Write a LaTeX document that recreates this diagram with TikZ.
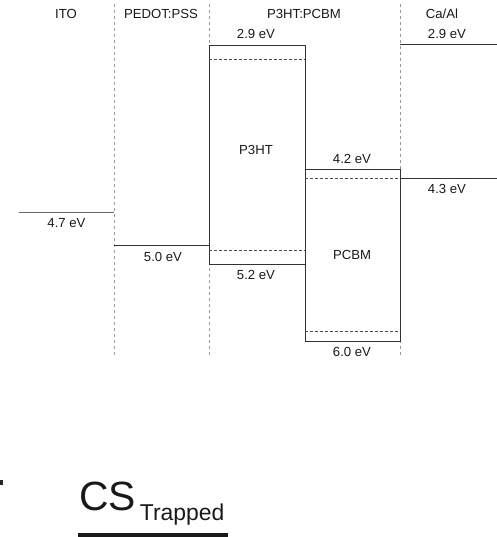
\documentclass[tikz,border=0pt]{standalone}
\usepackage{fontspec}
\setmainfont{Liberation Sans}
\begin{document}
\begin{tikzpicture}[x=1bp,y=-1bp,
  lbl/.style={font=\fontsize{13.2}{15}\selectfont, inner sep=0pt, text=black!90},
  sep/.style={draw=black!40, line width=0.8bp, dash pattern=on 3.3bp off 2.7bp},
  lvl/.style={draw=black!80, line width=1bp},
  inner/.style={draw=black!70, line width=0.8bp, dash pattern=on 3bp off 2bp},
  box/.style={draw=black!80, line width=1bp}]
\useasboundingbox (0,0) rectangle (497,537);
% column separators
\coordinate (s1t) at (114,4); \coordinate (s1b) at (114,358);
\coordinate (s2t) at (209,4); \coordinate (s2b) at (209,358);
\coordinate (s3t) at (400,4); \coordinate (s3b) at (400,358);
\draw[sep] (s1t) -- (s1b);
\draw[sep] (s2t) -- (s2b);
\draw[sep] (s3t) -- (s3b);
% column titles
\node[lbl] (tITO) at (66,14) {ITO};
\node[lbl] (tPED) at (161,14) {PEDOT:PSS};
\node[lbl] (tBHJ) at (304,14) {P3HT:PCBM};
\node[lbl] (tCA) at (442,14) {Ca/Al};
% ITO
\coordinate (ito1) at (19,212); \coordinate (ito2) at (114,212);
\draw[lvl, draw=black!60] (ito1) -- (ito2);
\node[lbl] (lITO) at (66.5,223) {4.7 eV};
% PEDOT
\coordinate (ped1) at (114,245); \coordinate (ped2) at (209,245);
\draw[lvl] (ped1) -- (ped2);
\node[lbl] (lPED) at (163,257) {5.0 eV};
% P3HT box
\node[box, minimum width=96bp, minimum height=219bp, inner sep=0pt, anchor=north west] (p3ht) at (208.5,45) {};
\node[lbl] (lP3) at (256,150) {P3HT};
\coordinate (p3d1) at (208.5,59); \coordinate (p3d2) at (304.5,59);
\draw[inner] (p3d1) -- (p3d2);
\coordinate (p3e1) at (208.5,250); \coordinate (p3e2) at (304.5,250);
\draw[inner] (p3e1) -- (p3e2);
\node[lbl] (lP3top) at (256,34) {2.9 eV};
\node[lbl] (lP3bot) at (256,275) {5.2 eV};
% PCBM box
\node[box, minimum width=95bp, minimum height=171bp, inner sep=0pt, anchor=north west] (pcbm) at (304.5,169.5) {};
\node[lbl] (lPC) at (352,255) {PCBM};
\coordinate (pcd1) at (304.5,178.5); \coordinate (pcd2) at (399.5,178.5);
\draw[inner] (pcd1) -- (pcd2);
\coordinate (pce1) at (304.5,331); \coordinate (pce2) at (399.5,331);
\draw[inner] (pce1) -- (pce2);
\node[lbl] (lPCtop) at (352,159) {4.2 eV};
\node[lbl] (lPCbot) at (352,352) {6.0 eV};
% Ca/Al
\coordinate (ca1) at (400,45); \coordinate (ca2) at (497,45);
\draw[lvl] (ca1) -- (ca2);
\node[lbl] (lCA1) at (447,34) {2.9 eV};
\coordinate (cb1) at (400,178.5); \coordinate (cb2) at (497,178.5);
\draw[lvl] (cb1) -- (cb2);
\node[lbl] (lCA2) at (447,189) {4.3 eV};
% bottom fragment
\node[inner sep=0pt, anchor=base west, font=\fontsize{41}{44}\selectfont, text=black!90] (cs) at (79,510) {CS\hspace{4bp}\raisebox{-10bp}{\fontsize{23}{26}\selectfont Trapped}};
\coordinate (bar1) at (78,535); \coordinate (bar2) at (228,535);
\draw[line width=4bp, black!90] (bar1) -- (bar2);
\fill[black!85] (0,480) rectangle (3,485);
\end{tikzpicture}
\end{document}
